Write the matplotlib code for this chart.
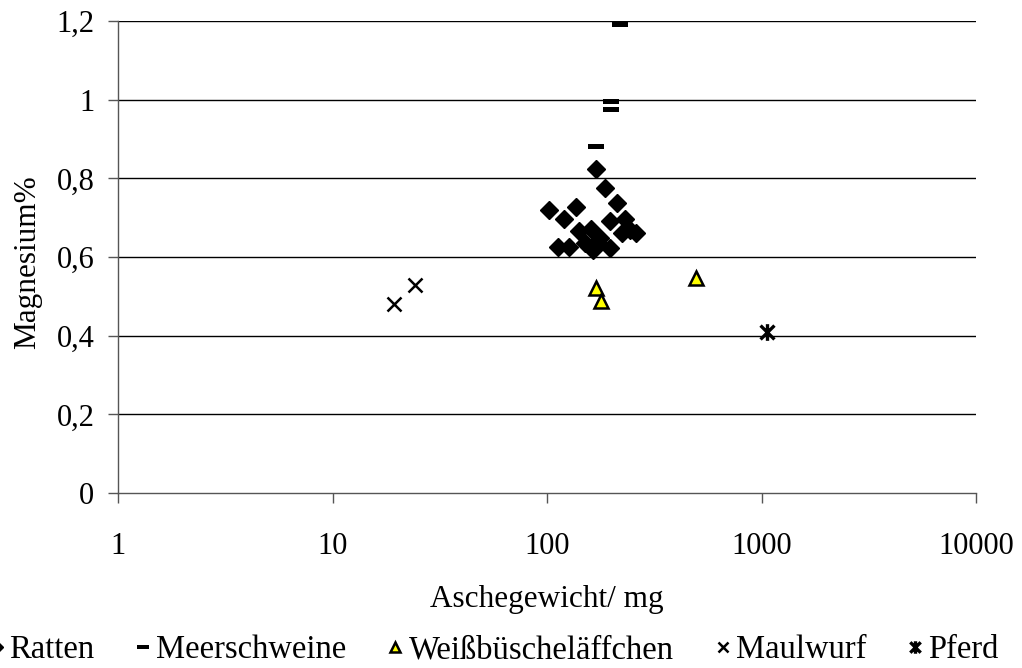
import matplotlib
matplotlib.use("Agg")
import matplotlib.pyplot as plt
from matplotlib.path import Path
from matplotlib.ticker import FixedLocator, FixedFormatter, NullLocator

# Ash weight (mg) and magnesium content (%) per species
ratten_x = [169, 186, 212, 102, 137, 120, 197, 231, 141, 160, 177, 171, 150, 197, 164, 224, 244, 260, 112, 127]
ratten_y = [0.824, 0.775, 0.737, 0.719, 0.727, 0.697, 0.692, 0.697, 0.666, 0.671, 0.648, 0.638, 0.636, 0.623, 0.618, 0.661, 0.669, 0.661, 0.625, 0.625]

meer_x = [219, 199, 199, 169]
meer_y = [1.193, 0.997, 0.976, 0.883]

weiss_x = [169, 179, 495]
weiss_y = [0.520, 0.489, 0.547]

maulwurf_x = [19.4, 24.2]
maulwurf_y = [0.480, 0.529]

pferd_x = [1061]
pferd_y = [0.409]

x_ticks = [1, 10, 100, 1000, 10000]
x_labels = ["1", "10", "100", "1000", "10000"]
y_ticks = [0, 0.2, 0.4, 0.6, 0.8, 1.0, 1.2]
y_labels = ["0", "0,2", "0,4", "0,6", "0,8", "1", "1,2"]

plt.rcParams['font.family'] = ['Liberation Serif', 'DejaVu Serif']
TICK_FS = 22
LABEL_FS = 22.5
LEGEND_FS = 23.5

fig = plt.figure(figsize=(10.22, 6.68), dpi=100)
ax = fig.add_axes([118/1022, 1 - 493/668, (976-118)/1022, (493-21)/668])

# custom markers: flat bar and asterisk
bar = Path([(-1, -0.3), (1, -0.3), (1, 0.3), (-1, 0.3), (-1, -0.3)],
           [Path.MOVETO, Path.LINETO, Path.LINETO, Path.LINETO, Path.CLOSEPOLY])
star = Path([(-1, -1), (1, 1), (-1, 1), (1, -1), (0, -1.2), (0, 1.2)],
            [Path.MOVETO, Path.LINETO, Path.MOVETO, Path.LINETO, Path.MOVETO, Path.LINETO])

ax.plot(ratten_x, ratten_y, linestyle='none', marker='D', markersize=9,
        color='black', label='Ratten', zorder=3)
ax.plot(meer_x, meer_y, linestyle='none', marker=bar, markersize=12,
        color='black', markeredgewidth=0, label='Meerschweine', zorder=3)
ax.plot(weiss_x, weiss_y, linestyle='none', marker='^', markersize=10,
        markerfacecolor='#ffff00', markeredgecolor='black', markeredgewidth=1.8,
        label='Weißbüscheläffchen', zorder=3)
ax.plot(maulwurf_x, maulwurf_y, linestyle='none', marker='x', markersize=10,
        color='black', markeredgewidth=1.8, label='Maulwurf', zorder=3)
ax.plot(pferd_x, pferd_y, linestyle='none', marker=star, markersize=12,
        color='black', markeredgewidth=2.4, label='Pferd', zorder=3)

ax.set_xscale('log')
ax.set_xlim(1, 10000)
ax.set_ylim(0, 1.2)
ax.xaxis.set_major_locator(FixedLocator(x_ticks))
ax.xaxis.set_major_formatter(FixedFormatter(x_labels))
ax.xaxis.set_minor_locator(NullLocator())
ax.yaxis.set_major_locator(FixedLocator(y_ticks))
ax.yaxis.set_major_formatter(FixedFormatter(y_labels))

for gy in y_ticks[1:]:
    ax.axhline(gy, color='black', linewidth=1, zorder=1)

for s in ['top', 'right']:
    ax.spines[s].set_visible(False)
for s in ['left', 'bottom']:
    ax.spines[s].set_color('#555555')
    ax.spines[s].set_linewidth(1)

ax.tick_params(axis='x', direction='out', length=7, width=1, color='#555555',
               labelsize=TICK_FS, pad=21)
ax.tick_params(axis='y', direction='out', length=7, width=1, color='#555555',
               labelsize=TICK_FS, pad=10)

ax.set_xlabel('Aschegewicht/ mg', fontsize=LABEL_FS)
ax.xaxis.label.set_va('center')
ax.xaxis.set_label_coords(0.5, (493 - 600) / 472)
ax.set_ylabel('Magnesium%', fontsize=LABEL_FS)
ax.yaxis.label.set_va('center')
ax.yaxis.set_label_coords((28 - 118) / 858, 0.49)

fig.legend(loc='center', bbox_to_anchor=(494/1022, 18/668), ncol=5, frameon=False,
           fontsize=LEGEND_FS, handletextpad=0.2, columnspacing=1.3, handlelength=0.4,
           markerscale=0.75, borderaxespad=0, borderpad=0)

fig.savefig('out.png', dpi=100)
